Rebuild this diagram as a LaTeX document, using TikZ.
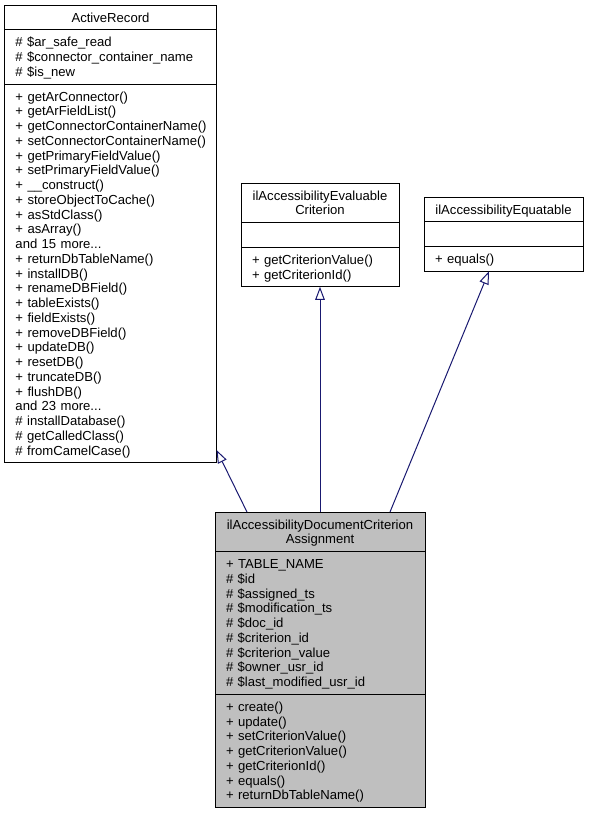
\documentclass[tikz,border=0pt]{standalone}
\usepackage{fontspec}
\setmainfont{Liberation Sans}
\usetikzlibrary{arrows.meta,calc}
\definecolor{edgeblue}{HTML}{191970}
\definecolor{fillgrey}{HTML}{BFBFBF}
\begin{document}
\begin{tikzpicture}[x=1pt,y=-1pt,
  classbox/.style={draw=black,line width=1pt,inner sep=0pt,outer sep=0pt,anchor=north west},
  clsText/.style={font=\fontsize{13.1}{14.75}\selectfont,inner sep=0pt,outer sep=0pt,text width=#1,anchor=base west},
  sepline/.style={draw=black,line width=1pt},
  inherit/.style={draw=edgeblue,line width=1pt,-{Triangle[length=13pt,width=9.5pt,fill=white]}}
]
\useasboundingbox (0,0) rectangle (589,815);

% ActiveRecord
\node[classbox,fill=white,minimum width=212pt,minimum height=457.75pt] (ar) at (4.5,5) {};
\draw[sepline] (ar.north west) ++(0,24.75) -- ++(212,0);
\draw[sepline] (ar.north west) ++(0,79) -- ++(212,0);
\node[clsText=212pt,align=center] (arT) at (4.5,22.2) {ActiveRecord};
\node[clsText=201pt,align=left] (arA) at (15.5,46.95) {\# \$ar\_safe\_read\\\# \$connector\_container\_name\\\# \$is\_new};
\node[clsText=201pt,align=left] (arM) at (15.5,101.2) {+ getArConnector()\\+ getArFieldList()\\+ getConnectorContainerName()\\+ setConnectorContainerName()\\+ getPrimaryFieldValue()\\+ setPrimaryFieldValue()\\+ \_\_construct()\\+ storeObjectToCache()\\+ asStdClass()\\+ asArray()\\and 15 more...\\+ returnDbTableName()\\+ installDB()\\+ renameDBField()\\+ tableExists()\\+ fieldExists()\\+ removeDBField()\\+ updateDB()\\+ resetDB()\\+ truncateDB()\\+ flushDB()\\and 23 more...\\\# installDatabase()\\\# getCalledClass()\\\# fromCamelCase()};

% ilAccessibilityEvaluableCriterion
\node[classbox,fill=white,minimum width=158pt,minimum height=103.75pt] (mid) at (241,183) {};
\draw[sepline] (mid.north west) ++(0,39.5) -- ++(158,0);
\draw[sepline] (mid.north west) ++(0,64.25) -- ++(158,0);
\node[clsText=158pt,align=center] (midT) at (241,200.2) {ilAccessibilityEvaluable\\Criterion};
\node[clsText=147pt,align=left] (midM) at (252,264.45) {+ getCriterionValue()\\+ getCriterionId()};

% ilAccessibilityEquatable
\node[classbox,fill=white,minimum width=159pt,minimum height=74.25pt] (eq) at (424,197) {};
\draw[sepline] (eq.north west) ++(0,24.75) -- ++(159,0);
\draw[sepline] (eq.north west) ++(0,49.5) -- ++(159,0);
\node[clsText=159pt,align=center] (eqT) at (424,214.2) {ilAccessibilityEquatable};
\node[clsText=148pt,align=left] (eqM) at (435,263.7) {+ equals()};

% ilAccessibilityDocumentCriterionAssignment
\node[classbox,fill=fillgrey,minimum width=210pt,minimum height=295.5pt] (dc) at (215,512) {};
\draw[sepline] (dc.north west) ++(0,39.5) -- ++(210,0);
\draw[sepline] (dc.north west) ++(0,182.25) -- ++(210,0);
\node[clsText=210pt,align=center] (dcT) at (215,529.2) {ilAccessibilityDocumentCriterion\\Assignment};
\node[clsText=199pt,align=left] (dcA) at (226,568.7) {+ TABLE\_NAME\\\# \$id\\\# \$assigned\_ts\\\# \$modification\_ts\\\# \$doc\_id\\\# \$criterion\_id\\\# \$criterion\_value\\\# \$owner\_usr\_id\\\# \$last\_modified\_usr\_id};
\node[clsText=199pt,align=left] (dcM) at (226,711.45) {+ create()\\+ update()\\+ setCriterionValue()\\+ getCriterionValue()\\+ getCriterionId()\\+ equals()\\+ returnDbTableName()};

% inheritance connectors
\draw[inherit] ($(dc.north west)+(32,0)$) -- ($(ar.south east)+(0,-12.75)$);
\draw[inherit] (dc.north) -- (mid.south);
\draw[inherit] ($(dc.north west)+(175,0)$) -- ($(eq.south)+(-14.5,0)$);
\end{tikzpicture}
\end{document}
